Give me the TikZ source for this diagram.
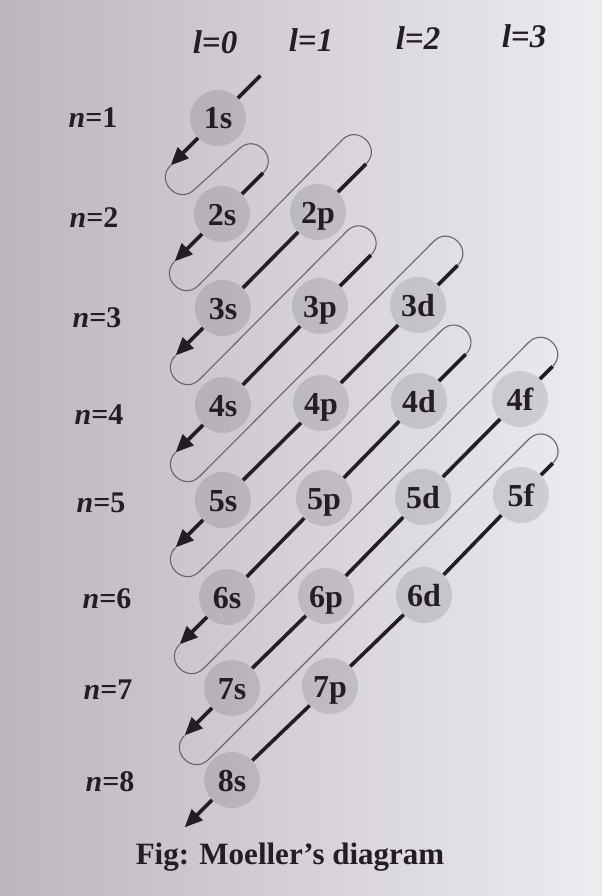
\documentclass[tikz,border=0pt]{standalone}
\usepackage{fontspec}
\setmainfont{Liberation Serif}
\usetikzlibrary{arrows.meta,calc}
\definecolor{paperL}{RGB}{188,182,190}
\definecolor{paperM}{RGB}{221,217,223}
\definecolor{paperR}{RGB}{238,236,240}
\definecolor{ink}{RGB}{35,30,35}
\definecolor{loopgray}{RGB}{105,100,108}
\tikzset{
  orb/.style={circle, minimum size=56pt, inner sep=0pt, fill=black, fill opacity=0.11,
    text opacity=1, text=ink, text height=22pt, text depth=0pt,
    font=\fontsize{32}{38}\selectfont\bfseries},
  qn/.style={text=ink, font=\fontsize{30}{36}\selectfont\bfseries},
  lq/.style={text=ink, font=\fontsize{33}{40}\selectfont\bfseries\itshape},
  thickln/.style={draw=ink, line width=3.6pt},
  arr/.style={thickln, -{Triangle[length=18pt,width=15pt]}},
  loopln/.style={draw=loopgray, line width=1.1pt},
}
\newcommand{\hairpin}[2]{%
  \draw[loopln] (#1) .. controls ($(#1)+(-16,16)$) and ($(#1)+(8,40)$) .. ($(#1)+(24,24)$)
    -- ($(#2)+(-24,-24)$) .. controls ($(#2)+(-8,-40)$) and ($(#2)+(16,-16)$) .. (#2);}
\begin{document}
\begin{tikzpicture}[x=1pt,y=-1pt]
\shade[left color=paperL, middle color=paperM, right color=paperR] (0,0) rectangle (602,896);
\useasboundingbox (0,0) rectangle (602,896);

% quantum number labels
\node[lq] (l0) at (215,42) {l=0};
\node[lq] (l1) at (311,40) {l=1};
\node[lq] (l2) at (418,38) {l=2};
\node[lq] (l3) at (524,36) {l=3};

\node[qn] (n1) at (93,118) {\textit{n}=1};
\node[qn] (n2) at (94,218) {\textit{n}=2};
\node[qn] (n3) at (97,318) {\textit{n}=3};
\node[qn] (n4) at (99,415) {\textit{n}=4};
\node[qn] (n5) at (101,503) {\textit{n}=5};
\node[qn] (n6) at (107,599) {\textit{n}=6};
\node[qn] (n7) at (108,690) {\textit{n}=7};
\node[qn] (n8) at (110,782) {\textit{n}=8};

% orbitals
\node[orb] (o1s) at (218,118) {1s};
\node[orb] (o2s) at (222,214) {2s};
\node[orb] (o2p) at (318,212) {2p};
\node[orb] (o3s) at (223,308) {3s};
\node[orb] (o3p) at (320,306) {3p};
\node[orb] (o3d) at (418,305) {3d};
\node[orb] (o4s) at (223,405) {4s};
\node[orb] (o4p) at (321,403) {4p};
\node[orb] (o4d) at (419,401) {4d};
\node[orb] (o4f) at (520,399) {4f};
\node[orb] (o5s) at (223,500) {5s};
\node[orb] (o5p) at (324,498) {5p};
\node[orb] (o5d) at (423,497) {5d};
\node[orb] (o5f) at (521,495) {5f};
\node[orb] (o6s) at (227,597) {6s};
\node[orb] (o6p) at (326,596) {6p};
\node[orb] (o6d) at (424,595) {6d};
\node[orb] (o7s) at (232,688) {7s};
\node[orb] (o7p) at (330,686) {7p};
\node[orb] (o8s) at (232,780) {8s};

% start and tip points of each diagonal
\coordinate (S1) at ($(o1s)+(42.4,-42.4)$);
\coordinate (S2) at ($(o2s)+(41.0,-41.0)$);
\coordinate (S3) at ($(o2p)+(48.1,-48.1)$);
\coordinate (S4) at ($(o3p)+(50.9,-50.9)$);
\coordinate (S5) at ($(o3d)+(39.6,-39.6)$);
\coordinate (S6) at ($(o4d)+(46.7,-46.7)$);
\coordinate (S7) at ($(o4f)+(32.5,-32.5)$);
\coordinate (S8) at ($(o5f)+(31.8,-31.8)$);
\coordinate (T1) at ($(o1s)+(-47.4,47.4)$);
\coordinate (T2) at ($(o2s)+(-47.4,47.4)$);
\coordinate (T3) at ($(o3s)+(-47.4,47.4)$);
\coordinate (T4) at ($(o4s)+(-47.4,47.4)$);
\coordinate (T5) at ($(o5s)+(-47.4,47.4)$);
\coordinate (T6) at ($(o6s)+(-47.4,47.4)$);
\coordinate (T7) at ($(o7s)+(-47.4,47.4)$);
\coordinate (T8) at ($(o8s)+(-47.4,47.4)$);

% return loops
\hairpin{T1}{S2}
\hairpin{T2}{S3}
\hairpin{T3}{S4}
\hairpin{T4}{S5}
\hairpin{T5}{S6}
\hairpin{T6}{S7}
\hairpin{T7}{S8}

% diagonals
\draw[thickln] (S1) -- (o1s);
\draw[arr] (o1s) -- (T1);
\draw[thickln] (S2) -- (o2s);
\draw[arr] (o2s) -- (T2);
\draw[thickln] (S3) -- (o2p) (o2p) -- (o3s);
\draw[arr] (o3s) -- (T3);
\draw[thickln] (S4) -- (o3p) (o3p) -- (o4s);
\draw[arr] (o4s) -- (T4);
\draw[thickln] (S5) -- (o3d) (o3d) -- (o4p) (o4p) -- (o5s);
\draw[arr] (o5s) -- (T5);
\draw[thickln] (S6) -- (o4d) (o4d) -- (o5p) (o5p) -- (o6s);
\draw[arr] (o6s) -- (T6);
\draw[thickln] (S7) -- (o4f) (o4f) -- (o5d) (o5d) -- (o6p) (o6p) -- (o7s);
\draw[arr] (o7s) -- (T7);
\draw[thickln] (S8) -- (o5f) (o5f) -- (o6d) (o6d) -- (o7p) (o7p) -- (o8s);
\draw[arr] (o8s) -- (T8);

\node[text=ink, font=\fontsize{31}{37}\selectfont\bfseries] (cap) at (290,857) {Fig: Moeller's diagram};
\end{tikzpicture}
\end{document}
